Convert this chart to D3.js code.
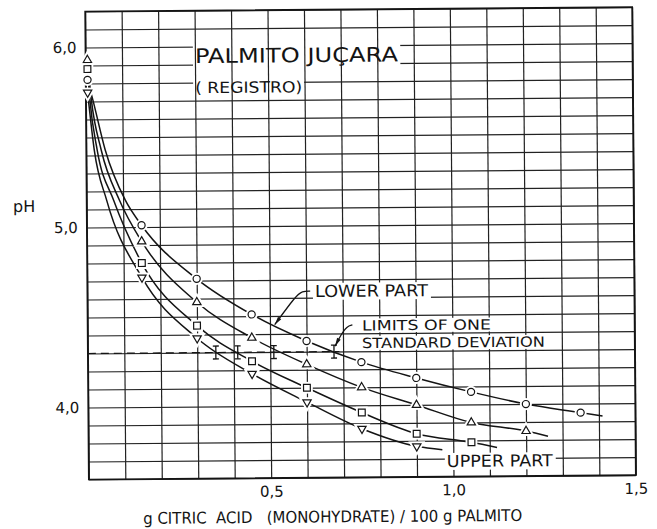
<!DOCTYPE html>
<html><head><meta charset="utf-8">
<script src="https://cdn.jsdelivr.net/npm/d3@7"></script>
<style>
html,body{margin:0;padding:0;background:#fff;}
svg{display:block;}
</style></head><body>
<svg id="c" width="657" height="529"></svg>
<script>
// ---------- data ----------
const xTicks = [0.5, 1.0, 1.5];
const yTicks = [4.0, 5.0, 6.0];
const xGridValues = d3.range(0, 16).map(d => d / 10);
const yGridValues = d3.range(36, 63).map(d => d / 10);

// marker points: [g citric acid /100 g, pH]
const lowerPartPoints = [[0.005,5.82],[0.15,5.01],[0.30,4.71],[0.45,4.51],[0.60,4.36],[0.75,4.24],[0.90,4.15],[1.05,4.07],[1.20,4.00],[1.35,3.95]];
const middleAPoints   = [[0.005,5.93],[0.15,4.92],[0.30,4.58],[0.45,4.38],[0.60,4.23],[0.75,4.10],[0.90,4.00],[1.05,3.90],[1.20,3.85]];
const middleBPoints   = [[0.005,5.88],[0.15,4.80],[0.30,4.45],[0.45,4.25],[0.60,4.10],[0.75,3.96],[0.90,3.84],[1.05,3.79]];
const upperPartPoints = [[0.005,5.75],[0.15,4.72],[0.30,4.38],[0.45,4.18],[0.60,4.02],[0.75,3.87],[0.90,3.77]];

// traced fitted curves
const lowerPartCurve = [[0.005,5.82],[0.019,5.71],[0.052,5.43],[0.106,5.15],[0.15,5.01],[0.30,4.71],[0.45,4.51],[0.60,4.36],[0.75,4.24],[0.90,4.15],[1.05,4.07],[1.20,4.00],[1.35,3.95],[1.41,3.93]];
const middleACurve   = [[0.005,5.93],[0.015,5.71],[0.041,5.43],[0.090,5.15],[0.15,4.92],[0.30,4.58],[0.45,4.38],[0.60,4.23],[0.75,4.10],[0.90,4.00],[1.05,3.90],[1.20,3.85],[1.26,3.82]];
const middleBCurve   = [[0.005,5.88],[0.011,5.71],[0.030,5.43],[0.074,5.15],[0.15,4.80],[0.30,4.45],[0.45,4.25],[0.60,4.10],[0.75,3.96],[0.90,3.84],[1.05,3.79],[1.12,3.76]];
const upperPartCurve = [[0.005,5.75],[0.022,5.43],[0.055,5.15],[0.15,4.72],[0.30,4.38],[0.45,4.18],[0.60,4.02],[0.75,3.87],[0.90,3.77],[0.97,3.75]];

// standard deviation limits at pH 4.3
const sdPH = 4.3;
const sdHalf = 0.036;
const sdX = [0.351, 0.411, 0.51, 0.675];
const sdLine = [[0, 4.3], [0.69, 4.3]];

// leaders
const lowerLeader  = [[0.611,4.637],[0.589,4.637],[0.572,4.612],[0.513,4.452]];
const limitsLeader = [[0.726,4.447],[0.711,4.440],[0.695,4.395],[0.678,4.330]];

const labels = [
  {t:"PALMITO JUÇARA",     x:0.300, y:5.909, size:20,   len:203, bg:"h"},
  {t:"( REGISTRO)",        x:0.300, y:5.742, size:15.5, len:107, bg:"h"},
  {t:"LOWER PART",         x:0.624, y:4.604, size:16.5, len:113, bg:"all"},
  {t:"LIMITS OF ONE",      x:0.752, y:4.416, size:14,   len:129, bg:"all"},
  {t:"STANDARD DEVIATION", x:0.752, y:4.318, size:14,   len:183, bg:"all"},
  {t:"UPPER PART",         x:0.982, y:3.654, size:16.5, len:106, bg:"all"}
];
const yTitle = {t:"pH", x:-0.202, y:5.089, size:16};
const xTitle = {t:"g CITRIC  ACID   (MONOHYDRATE) / 100 g PALMITO", x:0.148, y:3.351, size:16, len:379};

// ---------- drawing ----------
const FONT = "'DejaVu Sans', sans-serif";
const INK = "#141414";
const svg = d3.select("#c");
const g = svg.append("g").attr("transform", "rotate(-0.45,87,245)");

const x = d3.scaleLinear().domain([0, 1.5]).range([87, 634]);
const y = d3.scaleLinear().domain([3.6, 6.2]).range([479.5, 11.5]);
const W = x(1.5) - x(0), H = y(3.6) - y(6.2);

// defs: arrow
svg.append("defs").append("marker")
  .attr("id","arr").attr("viewBox","0 0 10 6").attr("refX",10).attr("refY",3)
  .attr("markerWidth",10).attr("markerHeight",5).attr("markerUnits","userSpaceOnUse")
  .attr("orient","auto")
  .append("path").attr("d","M0,0.6 L10,3 L0,5.4 Z").attr("fill",INK);

// horizontal grid
const hGrid = g.append("g").attr("transform", `translate(${x(0)},0)`)
  .call(d3.axisLeft(y).tickValues(yGridValues).tickSize(-W).tickFormat(""));
hGrid.select(".domain").remove();
hGrid.selectAll("line").attr("stroke", "#222").attr("stroke-width", 1.2);

const bgH = g.append("g");

// vertical grid
const vGrid = g.append("g").attr("transform", `translate(0,${y(3.6)})`)
  .call(d3.axisBottom(x).tickValues(xGridValues).tickSize(-H).tickFormat(""));
vGrid.select(".domain").remove();
vGrid.selectAll("line").attr("stroke", "#222").attr("stroke-width", 1.2);

const bgAll = g.append("g");

// frame
g.append("rect").attr("x", x(0)).attr("y", y(6.2)).attr("width", W).attr("height", H)
  .attr("fill", "none").attr("stroke", INK).attr("stroke-width", 1.7);

// tick labels
const fmt = d => d.toFixed(1).replace(".", ",");
const yAx = g.append("g").attr("transform", `translate(${x(0)},0)`)
  .call(d3.axisLeft(y).tickValues(yTicks).tickSize(0).tickPadding(9).tickFormat(fmt));
yAx.select(".domain").remove();
yAx.selectAll("text").attr("font-size", 15).attr("font-family", FONT).attr("fill", INK);
const xAx = g.append("g").attr("transform", `translate(0,${y(3.6)})`)
  .call(d3.axisBottom(x).tickValues(xTicks).tickSize(0).tickPadding(8).tickFormat(fmt));
xAx.select(".domain").remove();
xAx.selectAll("text").attr("font-size", 15).attr("font-family", FONT).attr("fill", INK);

// reference dashed line
const line = d3.line().x(d => x(d[0])).y(d => y(d[1]));
g.append("path").attr("d", line(sdLine)).attr("fill", "none")
  .attr("stroke", INK).attr("stroke-width", 1.2).attr("stroke-dasharray", "8,5");

// curves
const curveLine = d3.line().x(d => x(d[0])).y(d => y(d[1])).curve(d3.curveMonotoneX);
[lowerPartCurve, middleACurve, middleBCurve, upperPartCurve].forEach(c => {
  g.append("path").attr("d", curveLine(c)).attr("fill", "none")
    .attr("stroke", INK).attr("stroke-width", 1.5);
});

// markers
const series = [
  {pts: lowerPartPoints, type: d3.symbolCircle,   size: 40, rot: 0},
  {pts: middleAPoints,   type: d3.symbolTriangle, size: 30, rot: 0},
  {pts: middleBPoints,   type: d3.symbolSquare,   size: 46, rot: 0},
  {pts: upperPartPoints, type: d3.symbolTriangle, size: 30, rot: 180}
];
series.forEach(s => {
  const p = d3.symbol().type(s.type).size(s.size)();
  const mg = g.append("g");
  mg.selectAll("path.halo").data(s.pts).join("path").attr("class","halo")
    .attr("d", p).attr("transform", d => `translate(${x(d[0])},${y(d[1])}) rotate(${s.rot})`)
    .attr("fill", "#fff").attr("stroke", "#fff").attr("stroke-width", 5);
  mg.selectAll("path.mk").data(s.pts).join("path").attr("class","mk")
    .attr("d", p).attr("transform", d => `translate(${x(d[0])},${y(d[1])}) rotate(${s.rot})`)
    .attr("fill", "#fff").attr("stroke", INK).attr("stroke-width", 1.2);
});

// SD I-beams
const eb = g.append("g").attr("stroke", INK).attr("stroke-width", 1.3);
sdX.forEach(v => {
  const cx = x(v), y1 = y(sdPH + sdHalf), y2 = y(sdPH - sdHalf);
  eb.append("line").attr("x1", cx).attr("x2", cx).attr("y1", y1).attr("y2", y2);
  eb.append("line").attr("x1", cx - 3).attr("x2", cx + 3).attr("y1", y1).attr("y2", y1);
  eb.append("line").attr("x1", cx - 3).attr("x2", cx + 3).attr("y1", y2).attr("y2", y2);
});

// leaders
const leaderLine = d3.line().x(d => x(d[0])).y(d => y(d[1])).curve(d3.curveBasis);
[lowerLeader, limitsLeader].forEach(l => {
  g.append("path").attr("d", leaderLine(l)).attr("fill", "none")
    .attr("stroke", INK).attr("stroke-width", 1.3).attr("marker-end", "url(#arr)");
});

// labels
const txtG = g.append("g");
function addText(o) {
  const t = txtG.append("text").attr("x", x(o.x)).attr("y", y(o.y))
    .attr("font-family", FONT).attr("font-size", o.size).attr("fill", INK)
    .style("white-space", "pre").text(o.t);
  if (o.len) t.attr("textLength", o.len).attr("lengthAdjust", "spacingAndGlyphs");
  return t;
}
labels.forEach(o => {
  const t = addText(o);
  const b = t.node().getBBox();
  const layer = o.bg === "h" ? bgH : bgAll;
  layer.append("rect").attr("x", b.x - 2).attr("y", b.y + 1).attr("width", b.width + 4)
    .attr("height", b.height - 2).attr("fill", "#fff");
});
addText(yTitle);
addText(xTitle);
</script>
</body></html>
